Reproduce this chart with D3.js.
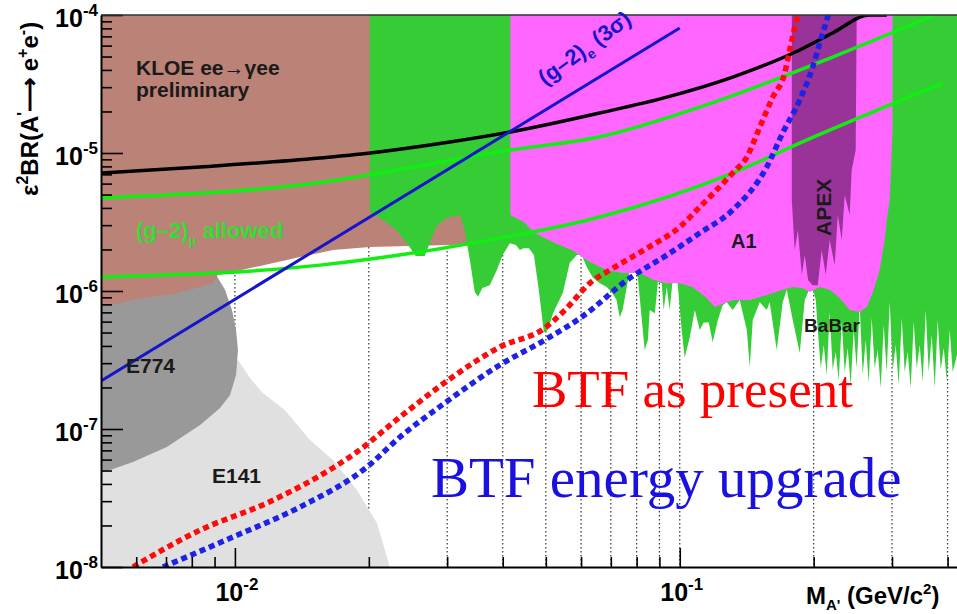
<!DOCTYPE html>
<html>
<head>
<meta charset="utf-8">
<script src="https://cdnjs.cloudflare.com/ajax/libs/d3/7.8.5/d3.min.js"></script>
<style>
  body { margin: 0; background: #fff; }
  text { font-family: "Liberation Sans", Arial, sans-serif; }
</style>
</head>
<body>
<script>
// ---- values: [mass (GeV), eps^2 BR] ----
const xTickExps = [-2, -1];
const yTickExps = [-4, -5, -6, -7, -8];
const xMinor = [0.006, 0.007, 0.008, 0.009, 0.01, 0.02, 0.03, 0.04, 0.05, 0.06, 0.07, 0.08, 0.09, 0.1, 0.2, 0.3, 0.4];

// KLOE excluded region, lower edge
const kloeEdge = [[0.005, 6.16e-7], [0.00911, 1.02e-6], [0.00912, 1.3e-6], [0.01139, 1.52e-6],
    [0.01401, 1.76e-6], [0.01661, 1.98e-6], [0.0201, 2.08e-6], [0.0304, 2.15e-6], [0.0416, 2.23e-6]];

// E774 outline
const e774Shape = [[0.005, 7.66e-7], [0.0059, 8.61e-7], [0.00644, 9.05e-7], [0.00726, 9.51e-7],
    [0.00835, 1.07e-6], [0.00892, 1.14e-6], [0.00911, 1.28e-6], [0.0095, 1.02e-6], [0.00985, 7.28e-7],
    [0.01006, 5.22e-7], [0.01016, 3.74e-7], [0.01006, 2.46e-7], [0.00975, 1.76e-7], [0.00926, 1.42e-7],
    [0.00835, 1.07e-7], [0.00703, 7.41e-8], [0.0059, 5.77e-8], [0.00524, 5.05e-8], [0.005, 4.88e-8]];

// E141 outline
const e141Shape = [[0.005, 1e-8], [0.005, 1.16e-7], [0.00835, 2.26e-7], [0.01016, 3.16e-7],
    [0.01081, 2.34e-7], [0.0115, 1.85e-7], [0.01296, 1.37e-7], [0.01475, 8.32e-8], [0.01661, 5.96e-8],
    [0.0188, 3.61e-8], [0.02086, 2.08e-8], [0.0223, 1e-8]];

// green (a_mu / BaBar) excluded region, lower edge
const greenEdge = [[0.0201, 3.73e-6], [0.0215, 3.27e-6], [0.0231, 2.77e-6], [0.0247, 2.08e-6],
    [0.0255, 1.79e-6], [0.0267, 1.79e-6], [0.0274, 2.22e-6], [0.0284, 2.96e-6], [0.0299, 3.38e-6],
    [0.0321, 3.55e-6], [0.0329, 2.68e-6], [0.0338, 1.62e-6], [0.0346, 9.85e-7], [0.0352, 9.1e-7],
    [0.036, 1.05e-6], [0.0374, 1.1e-6], [0.0388, 1.42e-6], [0.04, 1.82e-6], [0.0415, 2.22e-6],
    [0.0428, 2.15e-6], [0.0437, 1.98e-6], [0.0446, 2.04e-6], [0.0458, 2.04e-6], [0.047, 1.82e-6],
    [0.0482, 1.02e-6], [0.0495, 5.0e-7], [0.0505, 5.22e-7], [0.0519, 6.9e-7], [0.0546, 9.7e-7],
    [0.0566, 1.6e-6], [0.0587, 1.82e-6], [0.0602, 1.82e-6], [0.0618, 1.49e-6], [0.0638, 1.25e-6],
    [0.0661, 1.14e-6], [0.0685, 1.07e-6], [0.0703, 9.8e-7], [0.0721, 8.6e-7], [0.0733, 6.45e-7],
    [0.0744, 7.28e-7], [0.0772, 1.42e-6], [0.0792, 1.49e-6], [0.0805, 1.25e-6], [0.0834, 3.74e-7],
    [0.0848, 4.41e-7], [0.0856, 7.28e-7], [0.0879, 6.9e-7], [0.0893, 1.16e-6], [0.0911, 1.14e-6],
    [0.092, 7.28e-7], [0.0935, 1.07e-6], [0.0949, 7.28e-7], [0.0964, 1.2e-6], [0.0989, 1.14e-6],
    [0.101, 5.22e-7], [0.1026, 3.3e-7], [0.1053, 4.6e-7], [0.1081, 7.28e-7], [0.1109, 5.22e-7],
    [0.1132, 5.9e-7], [0.1162, 5.9e-7], [0.1186, 4.25e-7], [0.1218, 6.16e-7], [0.1249, 7.9e-7],
    [0.1275, 8.3e-7], [0.1315, 7.28e-7], [0.1364, 8.61e-7], [0.1415, 5.22e-7], [0.1437, 2.8e-7],
    [0.1459, 6.16e-7], [0.1513, 8.3e-7], [0.1569, 7.28e-7], [0.1593, 8.3e-7], [0.1652, 3.74e-7],
    [0.1704, 8.3e-7], [0.174, 1.02e-6], [0.1795, 6.16e-7], [0.1861, 3.55e-7], [0.191, 8.6e-7],
    [0.196, 1.05e-6], [0.2, 9.8e-7], [0.2022, 8.6e-7],
    [0.2043, 5.22e-7], [0.2075, 2.77e-7], [0.2107, 4.06e-7], [0.214, 2.46e-7], [0.2173, 7.05e-7],
    [0.2207, 2.68e-7], [0.2242, 3.61e-7], [0.2277, 2.26e-7], [0.2313, 5.96e-7], [0.2349, 2.59e-7],
    [0.2385, 3.86e-7], [0.2423, 2.08e-7], [0.246, 5.22e-7], [0.2499, 2.77e-7], [0.2538, 7.92e-7],
    [0.2578, 2.46e-7], [0.2618, 4.41e-7], [0.2659, 2.15e-7], [0.2701, 6.37e-7], [0.2743, 2.77e-7],
    [0.2786, 3.74e-7], [0.283, 1.98e-7], [0.2874, 5.67e-7], [0.2919, 2.59e-7], [0.2965, 8.32e-7],
    [0.3011, 2.68e-7], [0.3058, 4.06e-7], [0.3106, 2.08e-7], [0.3155, 6.37e-7], [0.3204, 2.59e-7],
    [0.3254, 3.61e-7], [0.3305, 1.98e-7], [0.3357, 5.96e-7], [0.3409, 2.77e-7], [0.3463, 4.06e-7],
    [0.3517, 2.19e-7], [0.3572, 7.28e-7], [0.3628, 2.59e-7], [0.3685, 4.8e-7], [0.3743, 1.98e-7],
    [0.3801, 6.16e-7], [0.386, 2.68e-7], [0.3921, 3.86e-7], [0.3982, 2.26e-7], [0.4045, 5.22e-7],
    [0.4108, 2.59e-7], [0.42, 3.44e-7]];

// A1 excluded region, lower edge
const a1Edge = [[0.0416, 3.55e-6], [0.0446, 3.16e-6], [0.0472, 2.63e-6], [0.0524, 2.23e-6],
    [0.0572, 1.98e-6], [0.0628, 1.62e-6], [0.0685, 1.42e-6], [0.0744, 1.35e-6], [0.0813, 1.35e-6],
    [0.0874, 1.2e-6], [0.0935, 1.14e-6], [0.1, 1.14e-6], [0.1069, 1.07e-6], [0.1144, 9.05e-7],
    [0.1199, 7.66e-7], [0.1315, 8.61e-7], [0.1437, 8.61e-7], [0.1569, 9.35e-7], [0.1704, 1.02e-6],
    [0.1795, 1.07e-6], [0.1885, 1.05e-6], [0.196, 9.84e-7], [0.2064, 1.07e-6], [0.2173, 1.02e-6],
    [0.2289, 8.9e-7], [0.241, 7.28e-7], [0.2538, 7.05e-7], [0.2632, 7.66e-7], [0.2715, 9.67e-7],
    [0.2815, 1.42e-6], [0.2889, 2.34e-6], [0.292, 3.27e-6], [0.2965, 4.57e-6], [0.3008, 1.4e-5]];

// APEX excluded region, lower edge
const apexEdge = [[0.1786, 4.57e-6], [0.1813, 1.98e-6], [0.1843, 2.77e-6], [0.1881, 1.31e-6],
    [0.191, 1.82e-6], [0.1943, 1.2e-6], [0.199, 1.1e-6], [0.2043, 1.1e-6], [0.2085, 1.98e-6],
    [0.2129, 1.31e-6], [0.2173, 2.34e-6], [0.223, 1.54e-6], [0.2266, 3.55e-6], [0.2313, 2.34e-6],
    [0.2349, 4.96e-6], [0.241, 3.55e-6], [0.2435, 7.53e-6], [0.2486, 1.05e-5], [0.2499, 1e-4]];

// curves
const kloeLine = [[0.005, 7.16e-6], [0.00835, 7.92e-6], [0.01553, 9.2e-6], [0.02015, 1.0e-5],
    [0.0304, 1.2e-5], [0.0416, 1.42e-5], [0.0661, 1.95e-5], [0.0935, 2.54e-5], [0.1315, 3.55e-5],
    [0.1861, 5.58e-5], [0.2207, 7.41e-5], [0.2673, 1e-4], [0.292, 1e-4]];
const gm2MuUpper = [[0.005, 4.72e-6], [0.014, 5.86e-6], [0.0416, 1.05e-5], [0.0661, 1.31e-5],
    [0.1109, 2.15e-5], [0.2207, 4.96e-5], [0.3743, 1e-4]];
const gm2MuLower = [[0.005, 1.26e-6], [0.01553, 1.54e-6], [0.0355, 2.27e-6], [0.0661, 3.44e-6],
    [0.1315, 7.16e-6], [0.1861, 1.18e-5], [0.39, 3.21e-5]];
const gm2E = [[0.005, 2.23e-7], [0.1, 8.05e-5]];

const btfPresent = [[0.0059, 1e-8], [0.00835, 1.85e-8], [0.0118, 2.91e-8], [0.0166, 5.22e-8],
    [0.0188, 6.81e-8], [0.0235, 1.22e-7], [0.0304, 2.3e-7], [0.0394, 3.93e-7], [0.0497, 5.39e-7],
    [0.0552, 7.28e-7], [0.0628, 1.14e-6], [0.0714, 1.49e-6], [0.0852, 2.08e-6], [0.1, 2.91e-6],
    [0.1109, 4.06e-6], [0.1315, 7.16e-6], [0.1415, 9.35e-6], [0.1513, 1.54e-5], [0.1618, 2.54e-5],
    [0.1722, 3.8e-5], [0.1767, 5.58e-5], [0.1833, 9.2e-5], [0.185, 1e-4]];
const btfUpgrade = [[0.00689, 1e-8], [0.0099, 1.65e-8], [0.014, 2.72e-8], [0.0198, 5.3e-8],
    [0.0235, 8.75e-8], [0.0292, 1.49e-7], [0.0394, 2.91e-7], [0.0497, 4.41e-7], [0.0602, 6.48e-7],
    [0.0772, 1.24e-6], [0.0935, 1.82e-6], [0.1109, 2.63e-6], [0.1315, 3.86e-6], [0.1569, 7.92e-6],
    [0.1704, 1.4e-5], [0.1861, 2.42e-5], [0.199, 4.2e-5], [0.2064, 6.27e-5], [0.214, 9.2e-5],
    [0.2155, 1e-4]];

// set the dimensions of the graph
const width = 957, height = 614;
const plot = {left: 101, right: 957, top: 15, bottom: 567};

const svg = d3.select("body")
    .append("svg")
    .attr("width", width)
    .attr("height", height);

const x = d3.scaleLog().domain([0.005, 0.42]).range([plot.left, plot.right]);
const y = d3.scaleLog().domain([1e-8, 1e-4]).range([plot.bottom, plot.top]);

svg.append("clipPath").attr("id", "clip")
    .append("rect")
    .attr("x", plot.left).attr("y", plot.top)
    .attr("width", plot.right - plot.left).attr("height", plot.bottom - plot.top);

const g = svg.append("g").attr("clip-path", "url(#clip)");

// dotted grid, sits behind the filled regions
g.selectAll(".grid")
    .data(xMinor)
    .enter()
    .append("line")
    .attr("x1", d => x(d)).attr("x2", d => x(d))
    .attr("y1", plot.top).attr("y2", plot.bottom)
    .attr("stroke", "#333")
    .attr("stroke-width", 1.2)
    .attr("stroke-dasharray", "1.5,2.5");

// regions hanging from the top of the frame
const topArea = d3.area()
    .x(d => x(d[0]))
    .y0(y(1e-4))
    .y1(d => y(d[1]));
const shape = d3.line()
    .x(d => x(d[0]))
    .y(d => y(d[1]))
    .curve(d3.curveLinearClosed);

g.append("path").attr("d", shape(e141Shape)).attr("fill", "#e0e0e0");
g.append("path").attr("d", topArea(kloeEdge)).attr("fill", "#bb8277");
g.append("path").attr("d", shape(e774Shape)).attr("fill", "#999999");
g.append("path").attr("d", topArea(greenEdge)).attr("fill", "#36cc36");
g.append("path").attr("d", topArea(a1Edge)).attr("fill", "#ff66ff");
g.append("path").attr("d", topArea(apexEdge)).attr("fill", "#993399");

// curves
const line = d3.line()
    .x(d => x(d[0]))
    .y(d => y(d[1]))
    .curve(d3.curveMonotoneX);

g.append("path").attr("d", line(kloeLine))
    .attr("fill", "none").attr("stroke", "#000").attr("stroke-width", 3.5);
[gm2MuUpper, gm2MuLower].forEach(c => {
    g.append("path").attr("d", line(c))
        .attr("fill", "none").attr("stroke", "#11ee11").attr("stroke-width", 3.5);
});
g.append("path").attr("d", line(gm2E))
    .attr("fill", "none").attr("stroke", "#1515cc").attr("stroke-width", 3);

g.append("path").attr("d", line(btfPresent))
    .attr("fill", "none").attr("stroke", "#ff0a0a").attr("stroke-width", 5.5)
    .attr("stroke-dasharray", "6,4");
g.append("path").attr("d", line(btfUpgrade))
    .attr("fill", "none").attr("stroke", "#1e22e6").attr("stroke-width", 5.5)
    .attr("stroke-dasharray", "6,4");

// axes: ticks point inwards
const yMajor = yTickExps.map(e => Math.pow(10, e));
const yMinor = [];
yTickExps.slice(0, -1).forEach(e => {
    for (let k = 2; k <= 9; k++) yMinor.push(k * Math.pow(10, e - 1));
});

svg.append("g")
    .attr("transform", `translate(${plot.left},0)`)
    .call(d3.axisLeft(y).tickValues(yMinor).tickSize(-11).tickSizeOuter(0).tickFormat(""))
    .call(a => a.select(".domain").attr("stroke-width", 2));
svg.append("g")
    .attr("transform", `translate(${plot.left},0)`)
    .call(d3.axisLeft(y).tickValues(yMajor).tickSize(-22).tickSizeOuter(0).tickFormat(""))
    .call(a => a.select(".domain").remove());

const xMajor = xTickExps.map(e => Math.pow(10, e));
svg.append("g")
    .attr("transform", `translate(0,${plot.bottom})`)
    .call(d3.axisBottom(x).tickValues(xMinor.filter(v => !xMajor.includes(v))).tickSize(-10).tickSizeOuter(0).tickFormat(""))
    .call(a => a.select(".domain").attr("stroke-width", 2));
svg.append("g")
    .attr("transform", `translate(0,${plot.bottom})`)
    .call(d3.axisBottom(x).tickValues(xMajor).tickSize(-19).tickSizeOuter(0).tickFormat(""))
    .call(a => a.select(".domain").remove());
svg.selectAll(".tick line").attr("stroke-width", 1.6);

// top frame
svg.append("line")
    .attr("x1", plot.left).attr("x2", plot.right)
    .attr("y1", plot.top).attr("y2", plot.top)
    .attr("stroke", "#333").attr("stroke-width", 1.5);

// tick labels as 10^n
function power(sel, e) {
    sel.append("tspan").text("10");
    sel.append("tspan").attr("dy", -11).attr("font-size", 17).text(e);
}
yTickExps.forEach(e => {
    svg.append("text")
        .attr("x", 98).attr("y", y(Math.pow(10, e)) + 12)
        .attr("text-anchor", "end")
        .attr("font-size", 25).attr("font-weight", "bold")
        .call(power, e);
});
xTickExps.forEach(e => {
    svg.append("text")
        .attr("x", x(Math.pow(10, e)) + 2).attr("y", 601)
        .attr("text-anchor", "middle")
        .attr("font-size", 25).attr("font-weight", "bold")
        .call(power, e);
});

// axis titles
const xt = svg.append("text")
    .attr("x", 806).attr("y", 604)
    .attr("font-size", 24).attr("font-weight", "bold");
xt.append("tspan").text("M");
xt.append("tspan").attr("dy", 6).attr("font-size", 15).text("A'");
xt.append("tspan").attr("dy", -6).text(" (GeV/c");
xt.append("tspan").attr("dy", -10).attr("font-size", 15).text("2");
xt.append("tspan").attr("dy", 10).text(")");

const yt = svg.append("text")
    .attr("transform", "translate(38,196) rotate(-90)")
    .attr("font-size", 24).attr("font-weight", "bold");
yt.append("tspan").text("ε");
yt.append("tspan").attr("dy", -10).attr("font-size", 16).text("2");
yt.append("tspan").attr("dy", 10).text("BR(A");
yt.append("tspan").attr("dy", -9).attr("font-size", 16).text("'");
yt.append("tspan").attr("dy", 9).text("⟶ e");
yt.append("tspan").attr("dy", -10).attr("font-size", 16).text("+");
yt.append("tspan").attr("dy", 10).text("e");
yt.append("tspan").attr("dy", -10).attr("font-size", 16).text("-");
yt.append("tspan").attr("dy", 10).text(")");

// region labels
function label(txt, px, py, size, color) {
    return svg.append("text")
        .attr("x", px).attr("y", py)
        .attr("font-size", size).attr("font-weight", "bold")
        .attr("fill", color).text(txt);
}
label("KLOE ee→γee", 136, 75, 21, "#1a1a1a");
label("preliminary", 136, 97, 21, "#1a1a1a");
label("E774", 126, 373, 21, "#1a1a1a");
label("E141", 212, 483, 21, "#1a1a1a");
label("A1", 731, 248, 20, "#1a1a1a");
label("BaBar", 804, 332, 19, "#1a1a1a");

svg.append("text")
    .attr("transform", "translate(831,236) rotate(-90)")
    .attr("font-size", 21).attr("font-weight", "bold").attr("fill", "#1a1a1a")
    .text("APEX");

const gmu = svg.append("text")
    .attr("x", 136).attr("y", 238)
    .attr("font-size", 22).attr("font-weight", "bold").attr("fill", "#33dd33");
gmu.append("tspan").text("(g–2)");
gmu.append("tspan").attr("dy", 7).attr("font-size", 13).text("μ");
gmu.append("tspan").attr("dy", -7).text(" allowed");

const ge = svg.append("text")
    .attr("transform", "translate(545,86) rotate(-36)")
    .attr("font-size", 22).attr("font-weight", "bold").attr("fill", "#1515cc");
ge.append("tspan").text("(g–2)");
ge.append("tspan").attr("dy", 6).attr("font-size", 14).text("e");
ge.append("tspan").attr("dy", -6).text(" (3σ)");

// BTF projections
svg.append("text")
    .attr("x", 532).attr("y", 407)
    .style("font-family", "'Liberation Serif', 'Times New Roman', serif")
    .attr("font-size", 53).attr("fill", "#ff0000")
    .text("BTF as present");
svg.append("text")
    .attr("x", 431).attr("y", 497)
    .style("font-family", "'Liberation Serif', 'Times New Roman', serif")
    .attr("font-size", 57).attr("fill", "#1a10e0")
    .text("BTF energy upgrade");
</script>
</body>
</html>
